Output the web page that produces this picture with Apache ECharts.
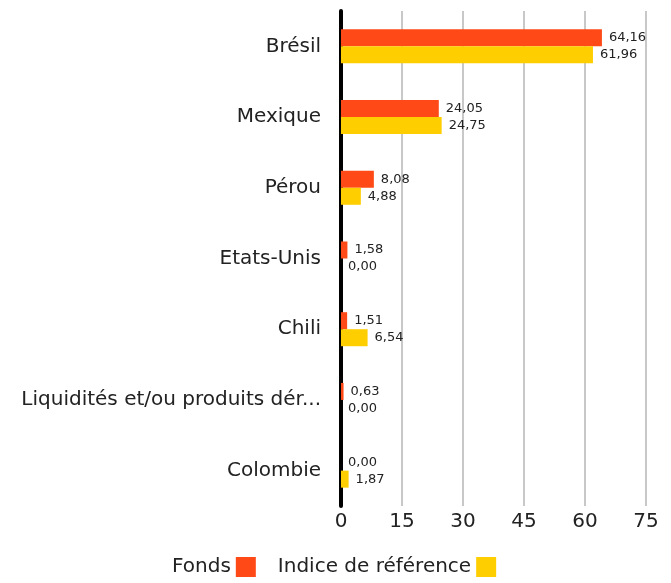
<!DOCTYPE html>
<html><head><meta charset="utf-8">
<script src="https://cdn.jsdelivr.net/npm/echarts@6/dist/echarts.min.js"></script>
<style>html,body{margin:0;padding:0;background:#fff}#c{width:671px;height:583px}</style>
</head><body><div id="c"></div>
<script>
const categories = ["Brésil","Mexique","Pérou","Etats-Unis","Chili","Liquidités et/ou produits dér...","Colombie"];
const fonds = [64.16, 24.05, 8.08, 1.58, 1.51, 0.63, 0.00];
const indice = [61.96, 24.75, 4.88, 0.00, 6.54, 0.00, 1.87];
const seriesNames = ["Fonds","Indice de référence"];
const xTicks = {min:0, max:75, interval:15};

const font = "'DejaVu Sans', sans-serif";
const chart = echarts.init(document.getElementById('c'));
const fmt = p => p.value.toFixed(2).replace('.', ',');
chart.setOption({
  animation:false,
  grid:{left:341, right:25, top:11, bottom:77},
  legend:{bottom:1, left:167, align:'right', itemWidth:20, itemHeight:20, itemGap:22,
    icon:'rect', textStyle:{fontFamily:font, fontSize:20, color:'#222'},
    data:seriesNames},
  xAxis:{type:'value', min:xTicks.min, max:xTicks.max, interval:xTicks.interval,
    axisLine:{show:false}, axisTick:{show:false},
    splitLine:{lineStyle:{color:'#c8c8c8', width:2}},
    axisLabel:{fontFamily:font, fontSize:20, color:'#222', margin:6}},
  yAxis:{type:'category', data:categories, inverse:true,
    axisLine:{lineStyle:{color:'#000', width:4}}, axisTick:{show:false},
    axisLabel:{fontFamily:font, fontSize:20, color:'#222', margin:20}},
  series:[
    {name:seriesNames[0], type:'bar', data:fonds, barWidth:17, barGap:'0%',
     itemStyle:{color:'#FF4A17'},
     label:{show:true, position:'right', distance:7, formatter:fmt, fontFamily:font, fontSize:13, color:'#222'}},
    {name:seriesNames[1], type:'bar', data:indice, barWidth:17,
     itemStyle:{color:'#FFCE00'},
     label:{show:true, position:'right', distance:7, formatter:fmt, fontFamily:font, fontSize:13, color:'#222'}}
  ]
});
</script></body></html>
